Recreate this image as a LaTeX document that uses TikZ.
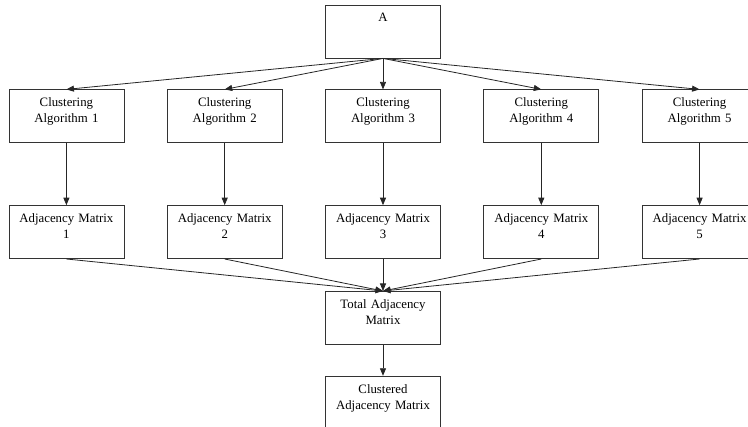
\documentclass[tikz,border=0pt]{standalone}
\usepackage{fontspec}
\setmainfont{Liberation Serif}
\usetikzlibrary{positioning}
\usetikzlibrary{arrows.meta}
\tikzset{
    flowbox/.style={draw=black!80, line width=0.8pt, inner sep=0pt, minimum width=115pt, minimum height=53pt,
        text width=113pt, align=center, text height=17pt, text depth=36pt, font=\fontsize{12.8}{16}\selectfont},
    flowarrow/.style={draw=black!85, line width=0.8pt, -{Triangle[length=7.5pt, width=6pt]}}
}
\begin{document}
\begin{tikzpicture}[x=1pt, y=-1pt]
    \useasboundingbox (0,0) rectangle (748,427);
    % input
    \node[flowbox] (a) at (383,31.5) {A};
    % clustering row
    \node[flowbox, below=31pt of a] (alg3) {Clustering\\Algorithm 3};
    \node[flowbox, left=42.5pt of alg3] (alg2) {Clustering\\Algorithm 2};
    \node[flowbox, left=42.5pt of alg2] (alg1) {Clustering\\Algorithm 1};
    \node[flowbox, right=42.5pt of alg3] (alg4) {Clustering\\Algorithm 4};
    \node[flowbox, right=42.5pt of alg4] (alg5) {Clustering\\Algorithm 5};
    % adjacency row
    \node[flowbox, below=62pt of alg1] (adj1) {Adjacency Matrix\\1};
    \node[flowbox, below=62pt of alg2] (adj2) {Adjacency Matrix\\2};
    \node[flowbox, below=62pt of alg3] (adj3) {Adjacency Matrix\\3};
    \node[flowbox, below=62pt of alg4] (adj4) {Adjacency Matrix\\4};
    \node[flowbox, below=62pt of alg5] (adj5) {Adjacency Matrix\\5};
    % result
    \node[flowbox, below=32pt of adj3] (total) {Total Adjacency\\Matrix};
    \node[flowbox, below=31pt of total] (clustered) {Clustered\\Adjacency Matrix};

    \draw[flowarrow] (a.south) -- (alg1.north);
    \draw[flowarrow] (a.south) -- (alg2.north);
    \draw[flowarrow] (a.south) -- (alg3.north);
    \draw[flowarrow] (a.south) -- (alg4.north);
    \draw[flowarrow] (a.south) -- (alg5.north);
    \draw[flowarrow] (alg1) -- (adj1);
    \draw[flowarrow] (alg2) -- (adj2);
    \draw[flowarrow] (alg3) -- (adj3);
    \draw[flowarrow] (alg4) -- (adj4);
    \draw[flowarrow] (alg5) -- (adj5);
    \draw[flowarrow] (adj1.south) -- (total.north);
    \draw[flowarrow] (adj2.south) -- (total.north);
    \draw[flowarrow] (adj3.south) -- (total.north);
    \draw[flowarrow] (adj4.south) -- (total.north);
    \draw[flowarrow] (adj5.south) -- (total.north);
    \draw[flowarrow] (total) -- (clustered);
\end{tikzpicture}
\end{document}
